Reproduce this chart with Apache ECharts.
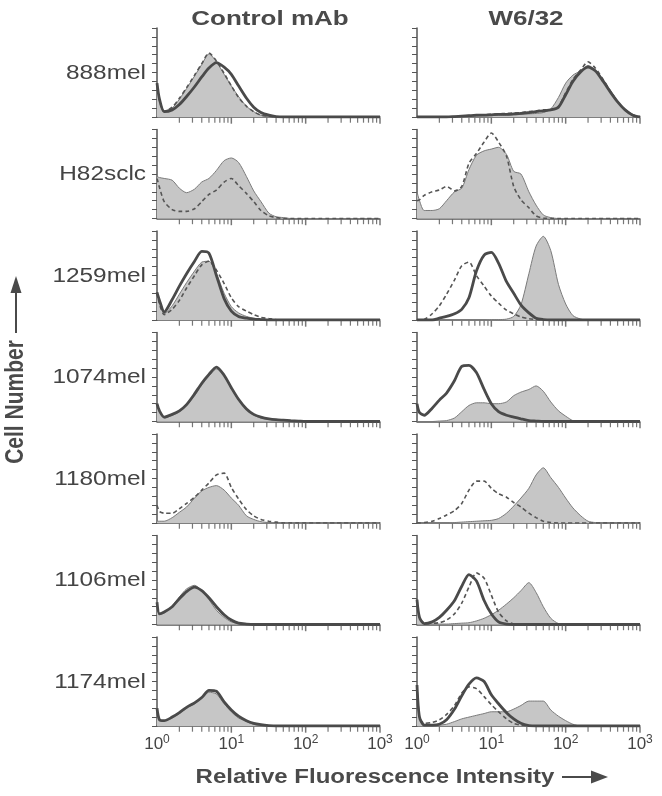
<!DOCTYPE html>
<html><head><meta charset="utf-8">
<script src="https://cdn.jsdelivr.net/npm/echarts@6/dist/echarts.min.js"></script>
<style>html,body{margin:0;padding:0;background:#fff}#c{width:662px;height:796px}</style>
</head><body><div id="c"></div>
<script>
// Fluorescence channel positions (x values, log scale)
const FLUOR = [1, 1.08, 1.25, 1.6, 2, 2.5, 3.2, 4, 5, 6.3, 8, 10, 12.5, 16, 20, 25, 32, 40, 50, 63, 80, 100, 125, 160, 200, 250, 320, 400, 500, 630, 800, 1000];
const CELL_LINES = ['888mel', 'H82sclc', '1259mel', '1074mel', '1180mel', '1106mel', '1174mel'];
const ANTIBODIES = ['Control mAb', 'W6/32'];
const MINOR_TICKS = [2, 3, 4, 5, 6, 7, 8, 9, 20, 30, 40, 50, 60, 70, 80, 90, 200, 300, 400, 500, 600, 700, 800, 900];
const MAJOR_TICKS = [10, 100, 1000];
const DECADE_EXP = {1: '0', 10: '1', 100: '2', 1000: '3'};

// Cell number (% of panel height) per channel
const mel888CtrlFill   = [38,20,7,10,20,32,46,59,71,62, 48,35,23,12,6,2,0.5,0,0,0, 0,0,0,0,0,0,0,0,0,0, 0,0];
const mel888CtrlDashed = [38,19,6,11,21,33,47,60,72,63, 49,35,22,12,6,2,1,0,0,0, 0,0,0,0,0,0,0,0,0,0, 0,0];
const mel888CtrlThick  = [38,20,6,8,14,23,34,45,55,61, 56,48,35,21,11,5,2,0.5,0,0, 0,0,0,0,0,0,0,0,0,0, 0,0];
const mel888W6Fill     = [0,0,0,0,0,0,0.3,0.5,1,1, 1.5,1.5,2,2,2.5,3,3.5,4,5,9, 22,38,47,52,58,53,42,30,18,9, 3,0];
const mel888W6Dashed   = [0,0,0,0,0,0,0.5,1,1.5,2, 2.5,3,3.5,4,4.5,5,6,7,8,8, 12,27,42,53,62,55,42,29,17,8, 2,0];
const mel888W6Thick    = [0,0,0,0,0,0,0.5,1,1.5,2, 2,2.5,3,3,3.5,4,5,6,7,8, 11,25,40,51,56,52,40,28,17,8, 2,0];

const h82CtrlFill      = [47,46,45,43,34,29,33,41,45,54, 65,68,63,47,31,19,6,2,1,0, 0,0,0,0,0,0,0,0,0,0, 0,0];
const h82CtrlDashed    = [45,35,19,10,8,8,11,19,27,32, 41,45,37,28,19,9,3,1,0,0, 0,0,0,0,0,0,0,0,0,0, 0,0];
const h82W6Fill        = [30,20,9,9,11,20,30,34,55,71, 76,78,80,72,53,50,30,15,4,1, 0,0,0,0,0,0,0,0,0,0, 0,0];
const h82W6Dashed      = [20,21,26,30,32,36,31,36,62,73, 86,96,86,70,36,21,12,3,0.5,0, 0,0,0,0,0,0,0,0,0,0, 0,0];

const mel1259CtrlFill  = [31,20,7,16,29,42,55,65,66,52, 30,15,8,4,2,1,0,0,0,0, 0,0,0,0,0,0,0,0,0,0, 0,0];
const mel1259CtrlDashed= [31,18,6,12,22,36,50,62,66,56, 41,25,15,10,6,3,1.5,0.5,0,0, 0,0,0,0,0,0,0,0,0,0, 0,0];
const mel1259CtrlThick = [31,22,9,23,38,52,66,77,75,50, 24,10,4,2,1,0.5,0,0,0,0, 0,0,0,0,0,0,0,0,0,0, 0,0];
const mel1259W6Fill    = [0,0,0,0,0,0,0,0,0,0, 0,0.5,0.5,1,4,17,52,83,94,78, 40,18,5,1,0,0,0,0,0,0, 0,0];
const mel1259W6Dashed  = [0,0,0.5,7,16,29,45,61,65,50, 38,27,19,11,7,3.5,1.5,0.5,0,0, 0,0,0,0,0,0,0,0,0,0, 0,0];
const mel1259W6Thick   = [0,0,0,0,2,4,7,12,25,55, 73,76,64,43,30,17,8,2,0.5,0, 0,0,0,0,0,0,0,0,0,0, 0,0];

const mel1074CtrlFill  = [20,12,4,7,11,18,29,41,51,59, 51,37,24,13,7,4,2.5,1.5,1,0.5, 0,0,0,0,0,0,0,0,0,0, 0,0];
const mel1074CtrlThick = [20,12,5,8,12,19,31,43,53,61, 52,38,25,14,8,5,3,2,1.5,1, 0.5,0,0,0,0,0,0,0,0,0, 0,0];
const mel1074W6Fill    = [0,0,0,0,0.5,1,4,11,18,21, 21,20,20,22,29,33,36,40,34,22, 12,6,1,0,0,0,0,0,0,0, 0,0];
const mel1074W6Thick   = [20,10,7,15,24,32,46,62,63,55, 36,20,11,7,5,3,1,0.5,0,0, 0,0,0,0,0,0,0,0,0,0, 0,0];

const mel1180CtrlFill  = [2,2,2,6,12,18,28,36,40,42, 37,28,20,8,4,1.5,0.5,0,0,0, 0,0,0,0,0,0,0,0,0,0, 0,0];
const mel1180CtrlDashed= [20,13,11,11,16,22,29,37,45,54, 56,40,27,15,8,4,2,1,0,0, 0,0,0,0,0,0,0,0,0,0, 0,0];
const mel1180W6Fill    = [0,0,0,0,0,0,0.5,1,1.5,2, 2.5,3,5,11,19,28,39,54,62,51, 40,28,17,8,2,0.5,0,0,0,0, 0,0];
const mel1180W6Dashed  = [0,0,0.5,2,5,9,14,22,37,47, 47,39,33,29,23,18,11,6,2,0.5, 0,0,0,0,0,0,0,0,0,0, 0,0];

const mel1106CtrlFill  = [25,12,13,21,31,40,44,38,28,16, 8,3,1,0,0,0,0,0,0,0, 0,0,0,0,0,0,0,0,0,0, 0,0];
const mel1106CtrlThick = [25,12,14,20,29,37,42,38,30,20, 11,5,1.5,0.5,0,0,0,0,0,0, 0,0,0,0,0,0,0,0,0,0, 0,0];
const mel1106W6Fill    = [28,8,1,0.5,0.5,0.5,1,1.5,2,4, 7,11,16,23,30,38,47,36,20,7, 1,0,0,0,0,0,0,0,0,0, 0,0];
const mel1106W6Dashed  = [28,8,2,1.5,2,5,12,24,42,58, 52,33,14,4,0.5,0,0,0,0,0, 0,0,0,0,0,0,0,0,0,0, 0,0];
const mel1106W6Thick   = [28,8,1,3,8,16,27,43,56,49, 27,12,3,0.5,0,0,0,0,0,0, 0,0,0,0,0,0,0,0,0,0, 0,0];

const mel1174CtrlFill  = [20,6,6,9,14,20,25,31,38,36, 25,16,9,5,2,1,0,0,0,0, 0,0,0,0,0,0,0,0,0,0, 0,0];
const mel1174CtrlThick = [20,7,6,10,15,21,26,32,40,39, 27,18,11,6,3,1.5,0.5,0,0,0, 0,0,0,0,0,0,0,0,0,0, 0,0];
const mel1174W6Fill    = [46,10,2,0.5,1,2,5,8,10,12, 14,16,16,16,19,23,28,28,28,18, 11,6,2,0,0,0,0,0,0,0, 0,0];
const mel1174W6Dashed  = [46,10,3,4,7,13,23,37,44,42, 33,24,16,8,3,1,0,0,0,0, 0,0,0,0,0,0,0,0,0,0, 0,0];
const mel1174W6Thick   = [46,10,1,1,2,7,19,34,47,54, 50,35,25,15,8,3,0.5,0,0,0, 0,0,0,0,0,0,0,0,0,0, 0,0];

const PANELS = [
  {row:0, col:0, fill:mel888CtrlFill, dashed:mel888CtrlDashed, thick:mel888CtrlThick},
  {row:0, col:1, fill:mel888W6Fill, dashed:mel888W6Dashed, thick:mel888W6Thick},
  {row:1, col:0, fill:h82CtrlFill, dashed:h82CtrlDashed},
  {row:1, col:1, fill:h82W6Fill, dashed:h82W6Dashed},
  {row:2, col:0, fill:mel1259CtrlFill, dashed:mel1259CtrlDashed, thick:mel1259CtrlThick},
  {row:2, col:1, fill:mel1259W6Fill, dashed:mel1259W6Dashed, thick:mel1259W6Thick},
  {row:3, col:0, fill:mel1074CtrlFill, thick:mel1074CtrlThick},
  {row:3, col:1, fill:mel1074W6Fill, thick:mel1074W6Thick},
  {row:4, col:0, fill:mel1180CtrlFill, dashed:mel1180CtrlDashed},
  {row:4, col:1, fill:mel1180W6Fill, dashed:mel1180W6Dashed},
  {row:5, col:0, fill:mel1106CtrlFill, thick:mel1106CtrlThick},
  {row:5, col:1, fill:mel1106W6Fill, dashed:mel1106W6Dashed, thick:mel1106W6Thick},
  {row:6, col:0, fill:mel1174CtrlFill, thick:mel1174CtrlThick},
  {row:6, col:1, fill:mel1174W6Fill, dashed:mel1174W6Dashed, thick:mel1174W6Thick}
];

const FONT = '"Liberation Sans", Arial, Helvetica, sans-serif';
const AXIS_COLOR = '#555';
const ROW_TOP = 28, ROW_STEP = 101.5, PANEL_H = 89, PANEL_W = 223;
const COL_LEFT = [157, 417];

const chart = echarts.init(document.getElementById('c'), null, {renderer: 'canvas'});
const grids = [], xAxes = [], yAxes = [], series = [];

function pairs(vals) { return FLUOR.map((x, k) => [x, vals[k]]); }

PANELS.forEach((p, i) => {
  grids.push({left: COL_LEFT[p.col], top: ROW_TOP + p.row * ROW_STEP, width: PANEL_W, height: PANEL_H});
  const bottom = p.row === CELL_LINES.length - 1;
  xAxes.push({
    gridIndex: i, type: 'log', logBase: 10, min: 1, max: 1000,
    axisLine: {show: true, lineStyle: {color: AXIS_COLOR, width: 1.5}},
    axisTick: {show: false}, splitLine: {show: false},
    axisLabel: {
      show: bottom, margin: 8, color: '#444', fontFamily: FONT, fontSize: 17, lineHeight: 20,
      showMinLabel: true, showMaxLabel: true,
      formatter: v => '10{s|' + (DECADE_EXP[Math.round(v)] || '') + '}',
      rich: {s: {fontSize: 12, lineHeight: 12, verticalAlign: 'top', fontFamily: FONT, color: '#444'}}
    }
  });
  yAxes.push({
    gridIndex: i, type: 'value', min: 0, max: 100, interval: 10,
    axisLine: {show: true, lineStyle: {color: AXIS_COLOR, width: 1.5}},
    axisTick: {show: true, length: 5, lineStyle: {color: AXIS_COLOR, width: 1}},
    axisLabel: {show: false}, splitLine: {show: false}
  });
  series.push({
    type: 'line', xAxisIndex: i, yAxisIndex: i, data: pairs(p.fill), symbol: 'none', smooth: 0.25,
    lineStyle: {color: '#7a7a7a', width: 1}, areaStyle: {color: '#c6c6c6', opacity: 1}, z: 2, silent: true
  });
  if (p.dashed) series.push({
    type: 'line', xAxisIndex: i, yAxisIndex: i, data: pairs(p.dashed), symbol: 'none', smooth: 0.25,
    lineStyle: {color: '#555', width: 1.6, type: [4, 3]}, z: 3, silent: true
  });
  if (p.thick) series.push({
    type: 'line', xAxisIndex: i, yAxisIndex: i, data: pairs(p.thick), symbol: 'none', smooth: 0.25,
    lineStyle: {color: '#4a4a4a', width: 2.8}, z: 4, silent: true
  });
  series.push({
    type: 'scatter', xAxisIndex: i, yAxisIndex: i, data: MINOR_TICKS.map(v => [v, 0]),
    symbol: 'rect', symbolSize: [1.2, 5], symbolOffset: [0, 3.2], itemStyle: {color: AXIS_COLOR},
    silent: true, z: 6, clip: false
  });
  series.push({
    type: 'scatter', xAxisIndex: i, yAxisIndex: i, data: MAJOR_TICKS.map(v => [v, 0]),
    symbol: 'rect', symbolSize: [1.5, 6], symbolOffset: [0, 3.7], itemStyle: {color: AXIS_COLOR},
    silent: true, z: 6, clip: false
  });
});

const graphic = [];
ANTIBODIES.forEach((t, c) => {
  graphic.push({type: 'text', x: c === 0 ? 270 : 526, y: 19, scaleX: 1.3,
    style: {text: t, font: 'bold 20px ' + FONT, fill: '#4a4a4a', textAlign: 'center', textVerticalAlign: 'middle', align: 'center', verticalAlign: 'middle'}});
});
CELL_LINES.forEach((t, r) => {
  graphic.push({type: 'text', x: 146, y: ROW_TOP + r * ROW_STEP + 45, scaleX: 1.22,
    style: {text: t, font: '20px ' + FONT, fill: '#444', textAlign: 'right', textVerticalAlign: 'middle', align: 'right', verticalAlign: 'middle'}});
});
graphic.push({type: 'text', x: 16, y: 402, rotation: Math.PI / 2, scaleY: 1.2,
  style: {text: 'Cell Number', font: 'bold 21px ' + FONT, fill: '#4a4a4a', textAlign: 'center', textVerticalAlign: 'middle', align: 'center', verticalAlign: 'middle'}});
graphic.push({type: 'line', shape: {x1: 16, y1: 333, x2: 16, y2: 290}, style: {stroke: '#4a4a4a', lineWidth: 2}});
graphic.push({type: 'polygon', shape: {points: [[16, 276], [10.5, 293], [21.5, 293]]}, style: {fill: '#4a4a4a'}});
graphic.push({type: 'text', x: 375, y: 777, scaleX: 1.2,
  style: {text: 'Relative Fluorescence Intensity', font: 'bold 20px ' + FONT, fill: '#4a4a4a', textAlign: 'center', textVerticalAlign: 'middle', align: 'center', verticalAlign: 'middle'}});
graphic.push({type: 'line', shape: {x1: 562, y1: 777, x2: 595, y2: 777}, style: {stroke: '#4a4a4a', lineWidth: 2}});
graphic.push({type: 'polygon', shape: {points: [[608, 777], [591, 770.5], [591, 783.5]]}, style: {fill: '#4a4a4a'}});

chart.setOption({
  animation: false,
  backgroundColor: '#fff',
  grid: grids, xAxis: xAxes, yAxis: yAxes, series: series, graphic: graphic
});
</script>
</body></html>
